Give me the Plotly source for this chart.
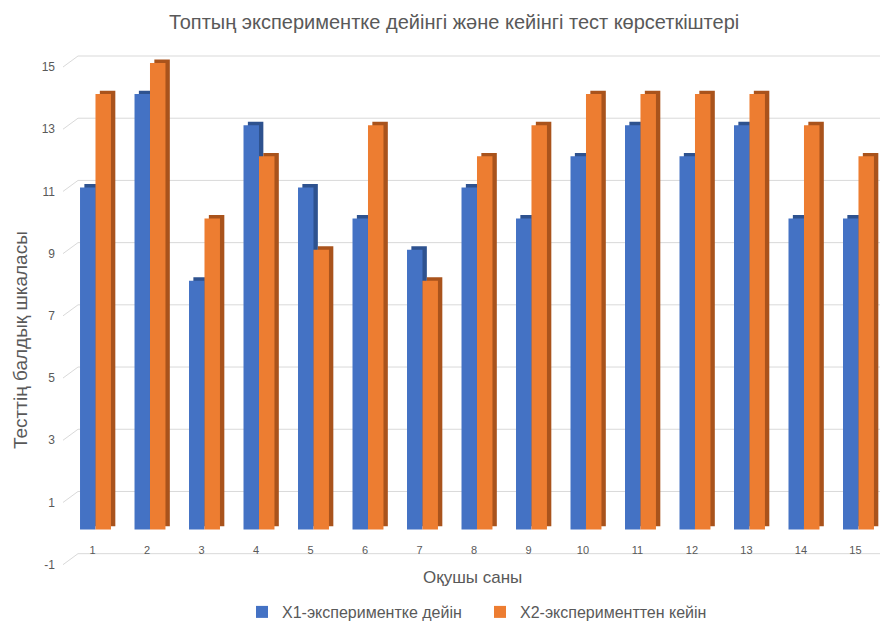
import plotly.graph_objects as go

categories = [str(i) for i in range(1, 16)]
x1_before = [11, 14, 8, 13, 11, 10, 9, 11, 10, 12, 13, 12, 13, 10, 10]
x2_after = [14, 15, 10, 12, 9, 13, 8, 12, 13, 14, 14, 14, 14, 13, 12]
series_names = ["X1-экспериментке дейін", "X2-эксперименттен кейін"]
y_ticks = [-1, 1, 3, 5, 7, 9, 11, 13, 15]
y_tick_labels = ["-1", "1", "3", "5", "7", "9", "11", "13", "15"]

title_text = "Топтың экспериментке дейінгі және кейінгі тест көрсеткіштері"
y_title = "Тесттің балдық шкаласы"
x_title = "Оқушы саны"

BLUE = "#4472C4"
BLUE_DARK = "#2E528F"
ORANGE = "#ED7D31"
ORANGE_DARK = "#A9531C"
GRID = "#D9D9D9"
TEXT = "#595959"
FONT = "Liberation Sans, Arial, sans-serif"

# page is offset 8px by the browser body margin, so figure is 880x614
FIG_W, FIG_H = 880, 614
M_L, M_R, M_T = 70, 2, 42
Y_RANGE = [-1.3, 15.418]
PX_PER_UNIT = 31.133
PLOT_H = round((Y_RANGE[1] - Y_RANGE[0]) * PX_PER_UNIT)
M_B = FIG_H - M_T - PLOT_H
PLOT_W = FIG_W - M_L - M_R
X_RANGE = [-0.321, 14.505]


def px_to_paper(xp, yp):
    """figure pixel (from top-left) -> paper coords"""
    return (xp - M_L) / PLOT_W, (FIG_H - M_B - yp) / PLOT_H


W = 0.284      # bar width in category units
DX = 0.08      # depth offset (x)
DY = 0.11      # depth offset (y)

fig = go.Figure()
# depth (side) faces drawn first
for vals, off, col in [(x1_before, -W, BLUE_DARK), (x2_after, 0.0, ORANGE_DARK)]:
    fig.add_trace(go.Bar(
        x=categories, y=vals, base=DY, offset=off + DX, width=W,
        marker=dict(color=col, line=dict(width=0)),
        showlegend=False, hoverinfo="skip"))
# front faces
for vals, off, col, name in [(x1_before, -W, BLUE, series_names[0]),
                             (x2_after, 0.0, ORANGE, series_names[1])]:
    fig.add_trace(go.Bar(
        x=categories, y=vals, offset=off, width=W, name=name,
        marker=dict(color=col, line=dict(width=0))))


def to_paper_y(v):
    return (v - Y_RANGE[0]) / (Y_RANGE[1] - Y_RANGE[0])


# back-wall gridlines with a short perspective slant on the left
shapes = []
slant_x = -15 / PLOT_W
for t in y_ticks:
    back = to_paper_y(t) + 7 / PLOT_H
    front = to_paper_y(t) - 4 / PLOT_H
    shapes.append(dict(type="line", xref="paper", yref="paper", x0=0, x1=1, y0=back, y1=back,
                       line=dict(color=GRID, width=1), layer="below"))
    shapes.append(dict(type="line", xref="paper", yref="paper", x0=slant_x, x1=0,
                       y0=front, y1=back, line=dict(color=GRID, width=1), layer="below"))

ytx, yty = px_to_paper(12, 332)
xtx, xty = px_to_paper(464, 569)
lgx, lgy = px_to_paper(234, 604)

fig.update_layout(
    width=FIG_W, height=FIG_H,
    margin=dict(l=M_L, r=M_R, t=M_T, b=M_B, autoexpand=False),
    paper_bgcolor="white", plot_bgcolor="white",
    barmode="overlay",
    font=dict(family=FONT, color=TEXT),
    title=dict(text=title_text, x=0.507, xanchor="center", y=1 - 14 / FIG_H, yanchor="middle",
               font=dict(size=20, color=TEXT, family=FONT)),
    showlegend=True,
    legend=dict(orientation="h", x=lgx, xanchor="left", y=lgy, yanchor="middle",
                font=dict(size=16, color=TEXT), traceorder="normal",
                entrywidth=193, itemwidth=30),
    xaxis=dict(type="category", range=X_RANGE, showgrid=False, showline=False,
               zeroline=False, ticks="", ticklabelposition="outside",
               ticklabelstandoff=-28, ticklabelshift=-3,
               tickfont=dict(size=11, color=TEXT)),
    yaxis=dict(range=Y_RANGE, tickvals=y_ticks, ticktext=y_tick_labels, showgrid=False,
               zeroline=False, showline=False, ticks="",
               ticklabelstandoff=22, ticklabelshift=4,
               tickfont=dict(size=12, color=TEXT)),
    shapes=shapes,
    annotations=[
        dict(text=y_title, xref="paper", yref="paper", x=ytx, y=yty,
             xanchor="center", yanchor="middle", textangle=-90, showarrow=False,
             font=dict(size=19, color=TEXT, family=FONT)),
        dict(text=x_title, xref="paper", yref="paper", x=xtx, y=xty,
             xanchor="center", yanchor="middle", showarrow=False,
             font=dict(size=17, color=TEXT, family=FONT)),
    ],
)

fig.write_html("out.html")
